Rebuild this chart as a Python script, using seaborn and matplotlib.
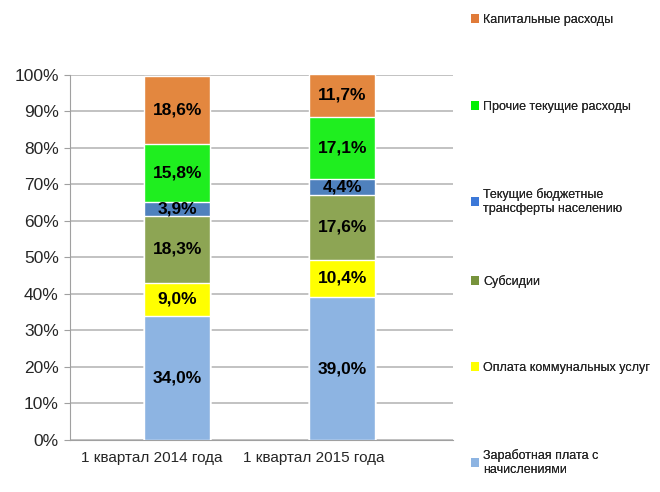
#!/usr/bin/env python3

import pandas as pd
import matplotlib.pyplot as plt
from matplotlib.patches import Patch
import seaborn as sns

sns.set_style('white')
plt.rcParams['font.family'] = ['Liberation Sans', 'DejaVu Sans']

# Data (shares of spending, %)
periods = ['1 квартал 2014 года', '1 квартал 2015 года']
categories = [
    'Заработная плата с\nначислениями',
    'Оплата коммунальных услуг',
    'Субсидии',
    'Текущие бюджетные\nтрансферты населению',
    'Прочие текущие расходы',
    'Капитальные расходы',
]
salary = [34.0, 39.0]
utilities = [9.0, 10.4]
subsidies = [18.3, 17.6]
transfers = [3.9, 4.4]
other_current = [15.8, 17.1]
capital = [18.6, 11.7]

colors = ['#8DB4E2', '#FFFF00', '#8DA554', '#4F81BD', '#1FEE1F', '#E3873F']
legend_colors = ['#8DB4E2', '#FFFF00', '#77933C', '#3C78D8', '#00F000', '#E07B39']

series = [salary, utilities, subsidies, transfers, other_current, capital]
df = pd.DataFrame({cat: vals for cat, vals in zip(categories, series)}, index=periods)
cum = df.cumsum(axis=1)

fig = plt.figure(figsize=(6.6, 4.92), dpi=100)
ax = fig.add_axes([0.106, 0.106, 0.58, 0.742])

# Stacked bars: draw cumulative totals from the top segment down
for cat, color in reversed(list(zip(categories, colors))):
    sns.barplot(x=periods, y=cum[cat].values, color=color, width=0.4,
                saturation=1, ax=ax, zorder=3)

# Segment labels
for i, period in enumerate(periods):
    for cat in categories:
        val = df.loc[period, cat]
        mid = cum.loc[period, cat] - val / 2
        ax.text(i, mid, f'{val:.1f}%'.replace('.', ','), ha='center', va='center',
                fontsize=12.5, fontweight='bold', color='black', zorder=5)

ax.set_ylim(0, 100)
ax.set_xlim(-0.65, 1.67)
ax.set_yticks(range(0, 101, 10))
ax.set_yticklabels([f'{v}%' for v in range(0, 101, 10)], fontsize=12.5)
ax.set_xticks([-0.153, 0.83])
ax.set_xticklabels(periods, fontsize=11)
ax.tick_params(axis='y', length=4, color='#A0A0A0', pad=4, left=True)
ax.tick_params(axis='x', length=0, pad=8)
ax.yaxis.grid(True, color='#B8B8B8', linewidth=1.2, zorder=0)
ax.set_axisbelow(True)
for side in ['top', 'right']:
    ax.spines[side].set_visible(False)
for side in ['left', 'bottom']:
    ax.spines[side].set_color('#A0A0A0')

# Legend: entries evenly spaced by their top edge, like the original
top = 0.972
step = 87 / 492
for k, (cat, c) in enumerate(zip(categories[::-1], legend_colors[::-1])):
    leg = fig.legend([Patch(facecolor=c, edgecolor='none')], [cat], loc='upper left',
                     bbox_to_anchor=(0.713, top - k * step), frameon=False, fontsize=9,
                     handlelength=0.7, handleheight=0.7, handletextpad=0.3,
                     borderpad=0, borderaxespad=0)
    fig.add_artist(leg)

plt.savefig('out.png', dpi=100)
